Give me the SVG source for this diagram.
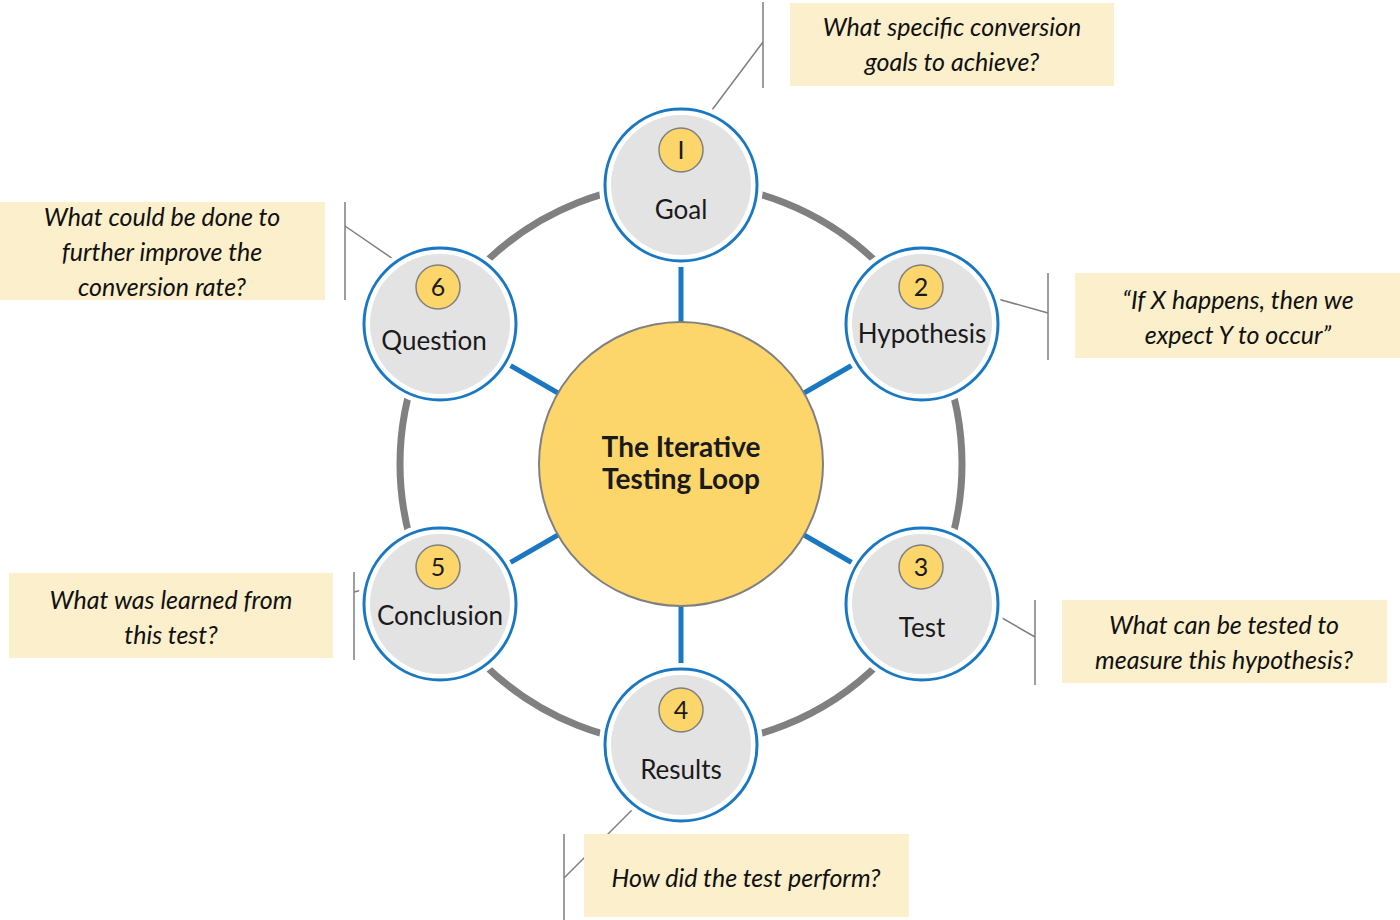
<svg xmlns="http://www.w3.org/2000/svg" width="1400" height="920" viewBox="0 0 1400 920">
<style>
.box{fill:#FCEFCB}
.ln{stroke:#7f7f7f;stroke-width:1.5;fill:none}
.ct{font-family:Lato,"Open Sans",sans-serif;font-style:italic;font-size:25px;fill:#111;text-anchor:middle}
.nl{font-family:Lato,"Open Sans",sans-serif;font-size:26px;fill:#1a1a1a;text-anchor:middle}
.num{font-family:Lato,"Open Sans",sans-serif;font-size:25px;fill:#1a1a1a;text-anchor:middle}
.spoke{stroke:#1A78C2;stroke-width:5}
.halo{fill:#fff}
.outer{fill:#fff;stroke:#1A78C2;stroke-width:3}
.inner{fill:#E4E3E4}
.badge{fill:#FDD66B;stroke:#808080;stroke-width:1.5}
</style>
<g id="connectors">
<circle cx="681" cy="464" r="281" fill="none" stroke="#808080" stroke-width="7"/>
<line class="spoke" x1="681" y1="262" x2="681" y2="323"/>
<line class="spoke" x1="681" y1="606" x2="681" y2="667"/>
<line class="spoke" x1="804" y1="393" x2="856" y2="363"/>
<line class="spoke" x1="558" y1="393" x2="506" y2="363"/>
<line class="spoke" x1="804" y1="535" x2="856" y2="565"/>
<line class="spoke" x1="558" y1="535" x2="506" y2="565"/>
<path class="ln" d="M763 2V88M763 42L703 122"/>
<path class="ln" d="M345 202V300M345 226L412 272"/>
<path class="ln" d="M1048 273V360M1048 313L951 286"/>
<path class="ln" d="M1035 600V685M1035 637L943 584"/>
<path class="ln" d="M354 572V660M354 592L403 580"/>
<path class="ln" d="M564 834V920M564 878L649 793"/>
</g>
<g id="center">
<circle cx="681" cy="464" r="142" fill="#FDD66B" stroke="#808080" stroke-width="2"/>
<text x="681" y="457" font-family="Lato,'Open Sans',sans-serif" font-weight="bold" font-size="28" text-anchor="middle" fill="#1a1a1a">The Iterative</text>
<text x="681" y="489" font-family="Lato,'Open Sans',sans-serif" font-weight="bold" font-size="28" text-anchor="middle" fill="#1a1a1a">Testing Loop</text>
</g>
<g id="node1"><circle class="halo" cx="681" cy="185" r="82"/><circle class="outer" cx="681" cy="185" r="76"/><circle class="inner" cx="681" cy="185" r="70"/><circle class="badge" cx="681" cy="150" r="22"/><text class="num" x="681" y="159">I</text><text class="nl" x="681" y="219">Goal</text></g>
<g id="node2"><circle class="halo" cx="922" cy="324" r="82"/><circle class="outer" cx="922" cy="324" r="76"/><circle class="inner" cx="922" cy="324" r="70"/><circle class="badge" cx="921" cy="287" r="22"/><text class="num" x="921" y="296">2</text><text class="nl" x="922" y="343">Hypothesis</text></g>
<g id="node3"><circle class="halo" cx="922" cy="604" r="82"/><circle class="outer" cx="922" cy="604" r="76"/><circle class="inner" cx="922" cy="604" r="70"/><circle class="badge" cx="921" cy="567" r="22"/><text class="num" x="921" y="576">3</text><text class="nl" x="922" y="637">Test</text></g>
<g id="node4"><circle class="halo" cx="681" cy="745" r="82"/><circle class="outer" cx="681" cy="745" r="76"/><circle class="inner" cx="681" cy="745" r="70"/><circle class="badge" cx="681" cy="710" r="22"/><text class="num" x="681" y="719">4</text><text class="nl" x="681" y="779">Results</text></g>
<g id="node5"><circle class="halo" cx="440" cy="604" r="82"/><circle class="outer" cx="440" cy="604" r="76"/><circle class="inner" cx="440" cy="604" r="70"/><circle class="badge" cx="438" cy="567" r="22"/><text class="num" x="438" y="576">5</text><text class="nl" x="440" y="625">Conclusion</text></g>
<g id="node6"><circle class="halo" cx="440" cy="324" r="82"/><circle class="outer" cx="440" cy="324" r="76"/><circle class="inner" cx="440" cy="324" r="70"/><circle class="badge" cx="438" cy="287" r="22"/><text class="num" x="438" y="296">6</text><text class="nl" x="434" y="350">Question</text></g>
<g id="callout1"><rect class="box" x="790" y="3" width="324" height="83"/><text class="ct" x="952" y="36">What specific conversion</text><text class="ct" x="952" y="71">goals to achieve?</text></g>
<g id="callout2"><rect class="box" x="1075" y="273" width="325" height="85"/><text class="ct" x="1238" y="309">“If X happens, then we</text><text class="ct" x="1238" y="344">expect Y to occur”</text></g>
<g id="callout3"><rect class="box" x="1062" y="600" width="325" height="83"/><text class="ct" x="1224" y="634">What can be tested to</text><text class="ct" x="1224" y="669">measure this hypothesis?</text></g>
<g id="callout4"><rect class="box" x="584" y="834" width="325" height="83"/><text class="ct" x="746" y="887">How did the test perform?</text></g>
<g id="callout5"><rect class="box" x="9" y="573" width="324" height="85"/><text class="ct" x="171" y="609">What was learned from</text><text class="ct" x="171" y="644">this test?</text></g>
<g id="callout6"><rect class="box" x="0" y="202" width="325" height="98"/><text class="ct" x="162" y="226">What could be done to</text><text class="ct" x="162" y="261">further improve the</text><text class="ct" x="162" y="296">conversion rate?</text></g>
</svg>
